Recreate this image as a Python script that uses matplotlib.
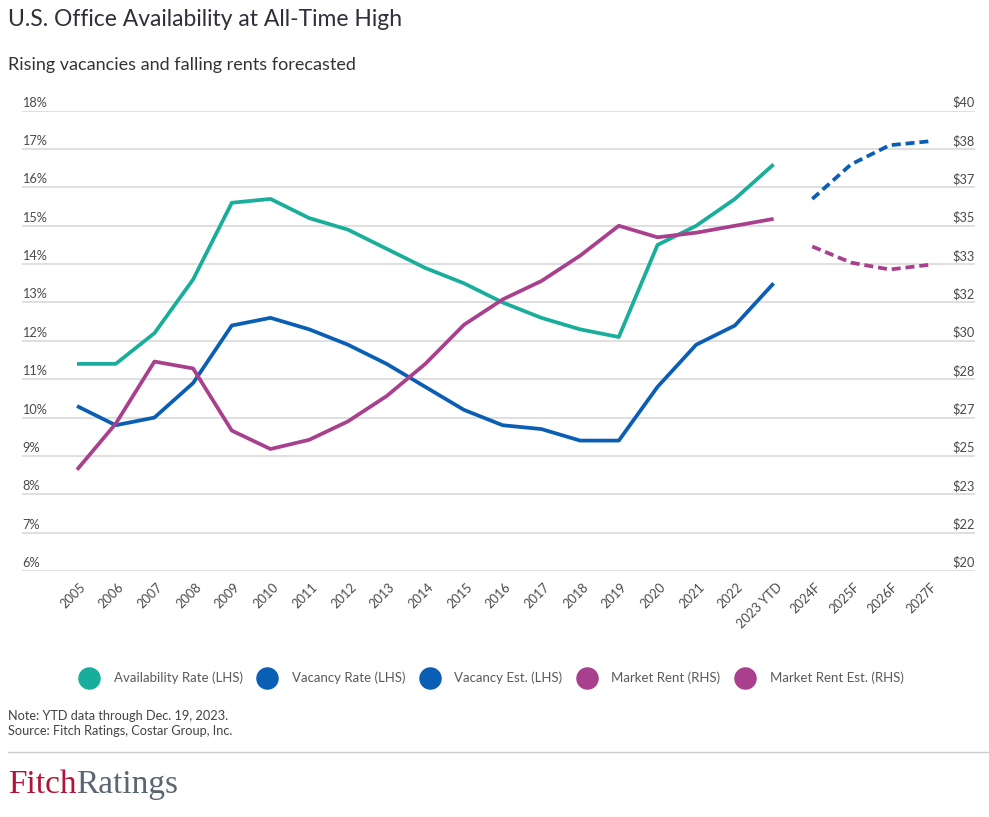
import matplotlib
matplotlib.use("Agg")
import matplotlib.pyplot as plt
import matplotlib.transforms as mtransforms
from matplotlib.lines import Line2D

plt.rcParams['font.family'] = ['Lato', 'DejaVu Sans']

# ---------------- data ----------------
years = ["2005", "2006", "2007", "2008", "2009", "2010", "2011", "2012", "2013",
         "2014", "2015", "2016", "2017", "2018", "2019", "2020", "2021", "2022",
         "2023 YTD", "2024F", "2025F", "2026F", "2027F"]
availability = [11.4, 11.4, 12.2, 13.6, 15.6, 15.7, 15.2, 14.9, 14.4, 13.9, 13.5,
                13.0, 12.6, 12.3, 12.1, 14.5, 15.0, 15.7, 16.6]
vacancy = [10.3, 9.8, 10.0, 10.9, 12.4, 12.6, 12.3, 11.9, 11.4, 10.8, 10.2, 9.8,
           9.7, 9.4, 9.4, 10.8, 11.9, 12.4, 13.5]
vacancy_est = [15.7, 16.6, 17.1, 17.2]
rent = [24.4, 26.4, 29.1, 28.8, 26.1, 25.3, 25.7, 26.5, 27.6, 29.0, 30.7, 31.8,
        32.6, 33.7, 35.0, 34.5, 34.7, 35.0, 35.3]
rent_est = [34.1, 33.4, 33.1, 33.3]

left_ticks = [6, 7, 8, 9, 10, 11, 12, 13, 14, 15, 16, 17, 18]
left_labels = ["6%", "7%", "8%", "9%", "10%", "11%", "12%", "13%", "14%", "15%",
               "16%", "17%", "18%"]
right_labels = ["$20", "$22", "$23", "$25", "$27", "$28", "$30", "$32", "$33",
                "$35", "$37", "$38", "$40"]
right_min, right_max = 20, 40

series_names = ["Availability Rate (LHS)", "Vacancy Rate (LHS)", "Vacancy Est. (LHS)",
                "Market Rent (RHS)", "Market Rent Est. (RHS)"]

GREEN = "#19AE9B"
BLUE = "#0A5FB4"
PURPLE = "#A8408E"
TXT = "#4a4a4a"
GRID = "#d6d6d6"

W, H = 989, 817
fig = plt.figure(figsize=(W / 100, H / 100), dpi=100)

ax_left_px, ax_right_px = 22, 975
ax_top_px, ax_bot_px = 110.7, 571
ax = fig.add_axes([ax_left_px / W, 1 - ax_bot_px / H,
                   (ax_right_px - ax_left_px) / W, (ax_bot_px - ax_top_px) / H])
ax2 = ax.twinx()

x0_px, dx_px = 77, 38.7
xmin = (ax_left_px - x0_px) / dx_px
xmax = (ax_right_px - x0_px) / dx_px
ax.set_xlim(xmin, xmax)
ax.set_ylim(left_ticks[0], left_ticks[-1])
ax2.set_ylim(right_min, right_max)

for a in (ax, ax2):
    for s in a.spines.values():
        s.set_visible(False)
    a.tick_params(left=False, right=False, bottom=False, labelleft=False, labelright=False)
    a.set_yticks([])

# gridlines
for t in left_ticks:
    ax.axhline(t, color=GRID, lw=1.1, zorder=0)

# y labels placed above gridlines
for t, lab in zip(left_ticks, left_labels):
    ax.text(0.0, t, lab, transform=ax.get_yaxis_transform(), ha='left', va='bottom',
            fontsize=9.2, color=TXT)
n_r = len(right_labels)
for i, lab in enumerate(right_labels):
    v = right_min + (right_max - right_min) * i / (n_r - 1)
    ax2.text(1.0, v, lab, transform=ax2.get_yaxis_transform(), ha='right', va='bottom',
             fontsize=9.2, color=TXT)

for a in (ax, ax2):
    off = mtransforms.ScaledTranslation(0, 2 / 100, fig.dpi_scale_trans)
    for txt in a.texts:
        txt.set_transform(txt.get_transform() + off)

# lines
n_hist = len(availability)
xh = list(range(n_hist))
xf = list(range(n_hist, n_hist + len(vacancy_est)))
lw = 2.7
ax.plot(xh, availability, color=GREEN, lw=lw, solid_capstyle='butt', zorder=3)
ax.plot(xh, vacancy, color=BLUE, lw=lw, solid_capstyle='butt', zorder=3)
ax.plot(xf, vacancy_est, color=BLUE, lw=lw, ls=(0, (2.4, 1.3)), dash_capstyle='butt', zorder=3)
ax2.plot(xh, rent, color=PURPLE, lw=lw, solid_capstyle='butt', zorder=3)
ax2.plot(xf, rent_est, color=PURPLE, lw=lw, ls=(0, (2.4, 1.3)), dash_capstyle='butt', zorder=3)

# x tick labels
ax.set_xticks(range(len(years)))
ax.tick_params(bottom=False, labelbottom=True, pad=6)
ax.set_xticklabels(years, rotation=45, ha='right', rotation_mode='anchor',
                   fontsize=9.2, color=TXT)
off = mtransforms.ScaledTranslation(2 / 100, 3 / 100, fig.dpi_scale_trans)
for lbl in ax.get_xticklabels():
    lbl.set_transform(lbl.get_transform() + off)

# legend
colors = [GREEN, BLUE, BLUE, PURPLE, PURPLE]
handles = [Line2D([], [], ls='none', marker='o', markersize=15.2, color=c) for c in colors]
leg = fig.legend(handles, series_names, loc='center', bbox_to_anchor=(0.4965, 1 - 678 / H),
                 ncol=5, frameon=False, fontsize=9.5, handlelength=1.6,
                 handletextpad=1.06, columnspacing=1.06, labelcolor="#5a5a5a")

# title, subtitle
fig.text(8 / W, 1 - 20 / H, "U.S. Office Availability at All-Time High", fontsize=16.5,
         color="#2f2f3a", ha='left', va='center')
fig.text(8 / W, 1 - 65 / H, "Rising vacancies and falling rents forecasted", fontsize=13,
         color="#333333", ha='left', va='center')

# footer
fig.text(8 / W, 1 - 716 / H, "Note: YTD data through Dec. 19, 2023.", fontsize=9.2,
         color="#444444", ha='left', va='center')
fig.text(8 / W, 1 - 731 / H, "Source: Fitch Ratings, Costar Group, Inc.", fontsize=9.2,
         color="#444444", ha='left', va='center')
fig.add_artist(Line2D([8 / W, 1.0], [1 - 752 / H, 1 - 752 / H], color="#cccccc", lw=1.0,
                      transform=fig.transFigure))

t1 = fig.text(8 / W, 1 - 793 / H, "Fitch", fontsize=24, family='Liberation Serif',
              color="#B0143A", ha='left', va='baseline')
fig.canvas.draw()
bb = t1.get_window_extent()
fig.text(bb.x1 / W, 1 - 793 / H, "Ratings", fontsize=24, family='Liberation Serif',
         color="#5b6670", ha='left', va='baseline')

fig.savefig("out.png", dpi=100)
